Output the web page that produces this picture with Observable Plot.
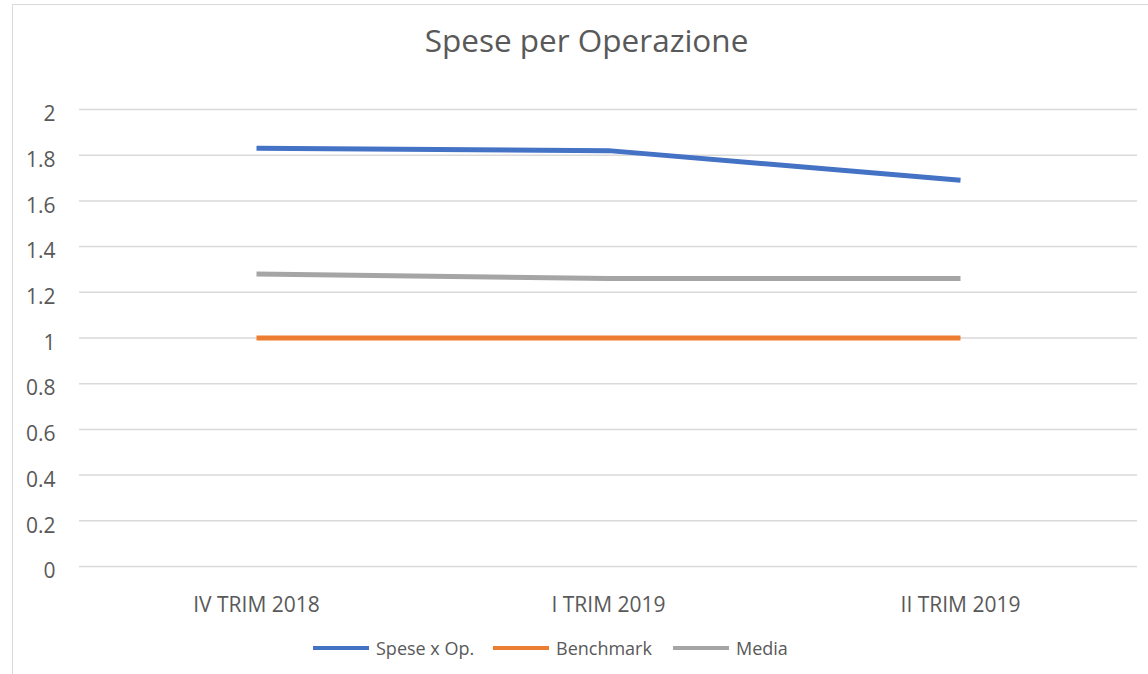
<!DOCTYPE html>
<html><head><meta charset="utf-8">
<script src="https://cdn.jsdelivr.net/npm/d3@7"></script>
<script src="https://cdn.jsdelivr.net/npm/@observablehq/plot@0.6"></script>
<style>
html,body{margin:0;padding:0;background:#fff;}
#wrap{position:relative;width:1148px;height:674px;overflow:hidden;font-family:"Open Sans",sans-serif;color:#595959;}
#frame{position:absolute;left:12px;top:4px;width:1160px;height:700px;border:1.5px solid #d9d9d9;box-sizing:border-box;}
#title{position:absolute;left:0;width:1173px;top:19px;text-align:center;font-size:31.5px;line-height:42px;color:#595959;white-space:nowrap;}
#chart{position:absolute;left:0;top:0;}
#legend{position:absolute;top:635px;left:0;width:1148px;height:26px;font-size:18px;}
.item{position:absolute;top:0;display:flex;align-items:center;height:26px;line-height:26px;white-space:nowrap;}
.sw{width:56px;height:4px;margin-right:7px;}
</style></head>
<body><div id="wrap"><div id="frame"></div><div id="title">Spese per Operazione</div><div id="chart"></div><div id="legend"></div></div>
<script>
const categories = ["IV TRIM 2018", "I TRIM 2019", "II TRIM 2019"];
const seriesNames = ["Spese x Op.", "Benchmark", "Media"];
const speseValues = [1.83, 1.82, 1.69];
const benchmarkValues = [1, 1, 1];
const mediaValues = [1.28, 1.26, 1.26];
const yTicks = [0, 0.2, 0.4, 0.6, 0.8, 1, 1.2, 1.4, 1.6, 1.8, 2];
const colors = ["#4472C4", "#ED7D31", "#A5A5A5"];

const seriesValues = [speseValues, benchmarkValues, mediaValues];
const data = [];
seriesNames.forEach((s, i) => categories.forEach((c, j) => data.push({series: s, cat: c, value: seriesValues[i][j]})));

const plot = Plot.plot({
  width: 1148,
  height: 620,
  marginTop: 109,
  marginBottom: 54,
  marginLeft: 79,
  marginRight: 11,
  style: {fontFamily: "'Open Sans',sans-serif", fontSize: "21px", color: "#595959", background: "transparent"},
  x: {type: "point", domain: categories, padding: 0.5, label: null},
  y: {domain: [0, 2], label: null},
  color: {domain: seriesNames, range: colors},
  marks: [
    Plot.ruleY(yTicks, {stroke: "#d9d9d9", strokeWidth: 1.5}),
    Plot.line(data, {x: "cat", y: "value", z: "series", stroke: "series", strokeWidth: 5, strokeLinecap: "butt", strokeLinejoin: "round"}),
    Plot.axisX({tickSize: 0, tickPadding: 31, fontSize: 21, label: null}),
    Plot.axisY({ticks: yTicks, tickFormat: d => String(d), tickSize: 0, tickPadding: 24, fontSize: 21, dy: 5, label: null})
  ]
});
document.getElementById("chart").appendChild(plot);

const legend = document.getElementById("legend");
const lx = [313, 493, 673];
seriesNames.forEach((s, i) => {
  const it = document.createElement("div");
  it.className = "item";
  it.style.left = lx[i] + "px";
  it.innerHTML = `<div class="sw" style="background:${colors[i]}"></div><span>${s}</span>`;
  legend.appendChild(it);
});
</script></body></html>
